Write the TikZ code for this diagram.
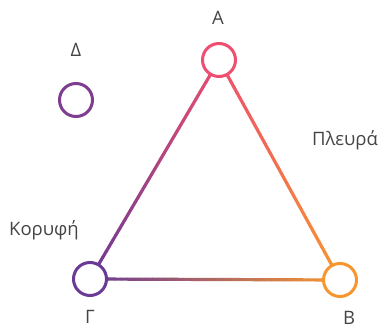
\documentclass[tikz,border=0pt]{standalone}
\usepackage{fontspec}
\setmainfont{Open Sans}
\usetikzlibrary{calc}
\definecolor{vpink}{HTML}{EE4E6F}
\definecolor{vorange}{HTML}{F7962F}
\definecolor{vpurple}{HTML}{6A3A95}
\definecolor{labelgray}{HTML}{454545}

% edge drawn in short pieces so the colour runs from one end to the other
\newcommand{\gradedge}[4]{%
  \foreach \i in {0,...,39} {
    \pgfmathsetmacro{\ta}{\i/40}
    \pgfmathsetmacro{\tb}{(\i+1)/40}
    \pgfmathsetmacro{\pc}{100*(\i+0.5)/40}
    \draw[edge, color=#4!\pc!#3] ($(#1)!\ta!(#2)$) -- ($(#1)!\tb!(#2)$);
  }
}

\begin{document}
\begin{tikzpicture}[
  x=1pt, y=1pt,
  vertex/.style={circle, draw, line width=3pt, fill=white, minimum size=33pt, inner sep=0pt},
  edge/.style={line width=3.2pt, line cap=round},
  lbl/.style={font=\fontsize{18.5}{22}\selectfont, text=labelgray}
]
\useasboundingbox (0,0) rectangle (383,329);

\coordinate (a) at (219,269);
\coordinate (b) at (340,49);
\coordinate (g) at (90,50);

\gradedge{a}{b}{vpink}{vorange}
\gradedge{a}{g}{vpink}{vpurple}
\gradedge{g}{b}{vpurple}{vorange}

\node[vertex, draw=vpink] (na) at (a) {};
\node[vertex, draw=vorange] (nb) at (b) {};
\node[vertex, draw=vpurple] (ng) at (g) {};
\node[vertex, draw=vpurple!85!vpink] (nd) at (76,229) {};

\node[lbl] (la) at (218,311) {Α};
\node[lbl] (lb) at (349,11) {Β};
\node[lbl] (lg) at (90,12) {Γ};
\node[lbl] (ld) at (76,279) {Δ};
\node[lbl] (side) at (345,189) {Πλευρά};
\node[lbl] (corner) at (44,99) {Κορυφή};
\end{tikzpicture}
\end{document}
